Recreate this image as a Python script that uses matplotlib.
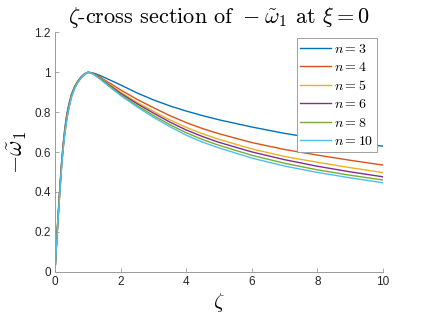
import numpy as np
import matplotlib
matplotlib.use("Agg")
import matplotlib.pyplot as plt
from matplotlib.ticker import FormatStrFormatter

# zeta grid
zeta = [0, 0.05, 0.1, 0.15, 0.2, 0.25, 0.3, 0.35, 0.4, 0.5, 0.6, 0.7, 0.8, 0.9, 1.0,
        1.1, 1.2, 1.35, 1.5, 1.75, 2, 2.5, 3, 3.5, 4, 4.5, 5, 6, 7, 8, 9, 10]

n_labels = ["3", "4", "5", "6", "8", "10"]

w_n3 = [0, 0.16, 0.30, 0.43, 0.55, 0.645, 0.72, 0.78, 0.825, 0.89, 0.93, 0.958, 0.978, 0.993, 1.0,
        0.999, 0.995, 0.986, 0.975, 0.956, 0.937, 0.897, 0.862, 0.832, 0.806, 0.783, 0.762,
        0.726, 0.694, 0.667, 0.647, 0.63]
w_n4 = [0, 0.155, 0.295, 0.42, 0.54, 0.635, 0.71, 0.77, 0.817, 0.885, 0.927, 0.955, 0.976, 0.992, 1.0,
        0.998, 0.992, 0.979, 0.963, 0.938, 0.912, 0.865, 0.823, 0.783, 0.748, 0.718, 0.692,
        0.648, 0.613, 0.585, 0.559, 0.535]
w_n5 = [0, 0.15, 0.29, 0.415, 0.535, 0.63, 0.705, 0.765, 0.812, 0.882, 0.925, 0.953, 0.975, 0.991, 1.0,
        0.998, 0.990, 0.975, 0.958, 0.929, 0.90, 0.85, 0.805, 0.762, 0.724, 0.692, 0.664,
        0.616, 0.578, 0.549, 0.522, 0.497]
w_n6 = [0, 0.148, 0.285, 0.41, 0.53, 0.625, 0.70, 0.76, 0.808, 0.879, 0.923, 0.952, 0.974, 0.99, 1.0,
        0.998, 0.989, 0.973, 0.955, 0.925, 0.895, 0.843, 0.796, 0.751, 0.711, 0.678, 0.649,
        0.601, 0.562, 0.529, 0.501, 0.476]
w_n8 = [0, 0.145, 0.28, 0.405, 0.525, 0.62, 0.695, 0.755, 0.804, 0.876, 0.921, 0.951, 0.973, 0.99, 1.0,
        0.997, 0.988, 0.971, 0.952, 0.920, 0.889, 0.834, 0.784, 0.738, 0.697, 0.663, 0.634,
        0.584, 0.544, 0.511, 0.484, 0.46]
w_n10 = [0, 0.14, 0.275, 0.40, 0.52, 0.615, 0.69, 0.75, 0.80, 0.873, 0.919, 0.95, 0.972, 0.989, 1.0,
         0.997, 0.987, 0.969, 0.949, 0.916, 0.884, 0.827, 0.775, 0.728, 0.685, 0.65, 0.621,
         0.57, 0.53, 0.498, 0.471, 0.446]

series = [w_n3, w_n4, w_n5, w_n6, w_n8, w_n10]
colors = ["#0072BD", "#D95319", "#EDB120", "#7E2F8E", "#77AC30", "#4DBEEE"]

plt.rcParams["mathtext.fontset"] = "cm"
plt.rcParams["font.family"] = ["Liberation Sans", "DejaVu Sans"]

fig = plt.figure(figsize=(4.23, 3.17), dpi=100)
ax = fig.add_axes([0.130, 0.143, 0.775, 0.7545])

for lab, w, c in zip(n_labels, series, colors):
    ax.plot(zeta, w, color=c, lw=1.0, label=rf"$n = {lab}$")

ax.set_xlim(0, 10)
ax.set_ylim(0, 1.2)
ax.set_xticks([0, 2, 4, 6, 8, 10])
ax.set_yticks([0, 0.2, 0.4, 0.6, 0.8, 1.0, 1.2])
ax.yaxis.set_major_formatter(FormatStrFormatter("%g"))

for s in ["top", "right"]:
    ax.spines[s].set_visible(False)
for s in ["left", "bottom"]:
    ax.spines[s].set_color("#9a9a9a")
    ax.spines[s].set_linewidth(0.7)
ax.tick_params(direction="in", length=3, width=0.6, color="#9a9a9a",
               labelsize=8.5, labelcolor="#262626", pad=3)

ax.set_xlabel(r"$\zeta$", fontsize=15, labelpad=2)
ax.set_ylabel(r"$-\tilde{\omega}_1$", fontsize=17, labelpad=4)
ax.set_title(r"$\zeta\text{-cross section of }-\tilde{\omega}_1\text{ at }\xi = 0$",
             fontsize=16, pad=7)

leg = ax.legend(loc="upper right", bbox_to_anchor=(0.891, 0.879),
                bbox_transform=fig.transFigure, fontsize=10, frameon=True,
                fancybox=False, framealpha=1, edgecolor="#a0a0a0",
                handlelength=2.2, handletextpad=0.25, labelspacing=0.32,
                borderpad=0.25, borderaxespad=0)
leg.get_frame().set_linewidth(0.7)

fig.savefig("out.png", dpi=100)
